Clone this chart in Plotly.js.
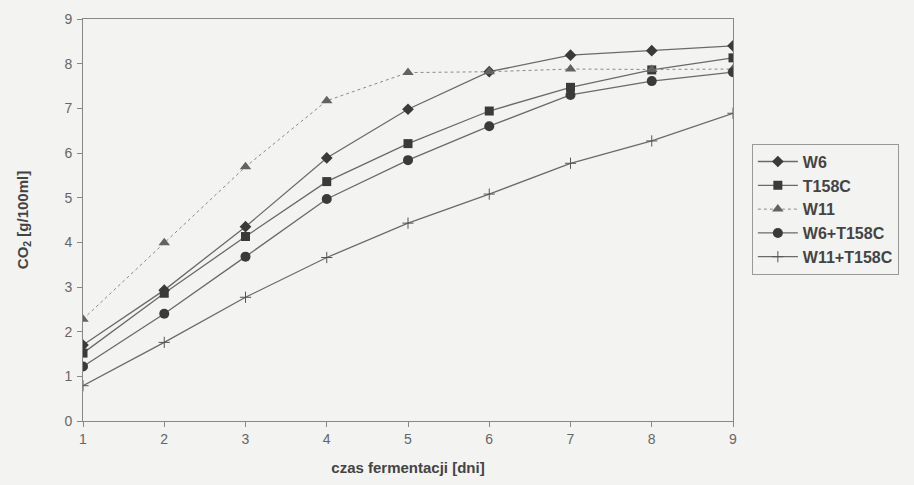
<!DOCTYPE html>
<html><head><meta charset="utf-8">
<script src="https://cdn.plot.ly/plotly-3.0.1.min.js"></script>
<style>html,body{margin:0;padding:0;background:#f3f3f1;}</style>
</head><body>
<div id="chart" style="width:914px;height:485px;"></div>
<script>
var days = [1, 2, 3, 4, 5, 6, 7, 8, 9];
var W6 = [1.70, 2.93, 4.35, 5.89, 6.98, 7.82, 8.19, 8.29, 8.40];
var T158C = [1.52, 2.86, 4.13, 5.36, 6.21, 6.94, 7.47, 7.86, 8.13];
var W11 = [2.28, 3.99, 5.69, 7.17, 7.80, 7.82, 7.88, 7.87, 7.88];
var W6_T158C = [1.22, 2.40, 3.68, 4.97, 5.84, 6.60, 7.30, 7.61, 7.81];
var W11_T158C = [0.79, 1.76, 2.77, 3.66, 4.43, 5.08, 5.77, 6.27, 6.89];
var yTicks = [0, 1, 2, 3, 4, 5, 6, 7, 8, 9];

var dark = '#3a3a3a', lineC = '#6a6a6a';
var traces = [
  {x: days, y: W6, name: 'W6', mode: 'lines+markers', line: {color: lineC, width: 1.3}, marker: {symbol: 'diamond', size: 9, color: dark}},
  {x: days, y: T158C, name: 'T158C', mode: 'lines+markers', line: {color: lineC, width: 1.3}, marker: {symbol: 'square', size: 9, color: dark}},
  {x: days, y: W11, name: 'W11', mode: 'lines+markers', line: {color: '#8a8a8a', width: 1, dash: 'dot'}, marker: {symbol: 'triangle-up', size: 10, color: '#626262'}},
  {x: days, y: W6_T158C, name: 'W6+T158C', mode: 'lines+markers', line: {color: lineC, width: 1.3}, marker: {symbol: 'circle', size: 10, color: dark}},
  {x: days, y: W11_T158C, name: 'W11+T158C', mode: 'lines+markers', line: {color: lineC, width: 1.3}, marker: {symbol: 'cross-thin', size: 8, color: dark, line: {color: '#555', width: 1}}}
];
var layout = {
  width: 914, height: 485,
  paper_bgcolor: '#f3f3f1', plot_bgcolor: '#f3f3f1',
  margin: {l: 83, r: 181, t: 19, b: 64},
  font: {family: 'Arial, Liberation Sans, sans-serif', color: '#555'},
  showlegend: true,
  legend: {x: 1.029, y: 0.69, xanchor: 'left', yanchor: 'top', bordercolor: '#999', borderwidth: 1,
    bgcolor: '#f3f3f1', font: {size: 16, color: '#444', family: 'Arial, Liberation Sans, sans-serif', weight: 'bold'}, tracegroupgap: 1, itemwidth: 40},
  xaxis: {range: [1, 9], tickvals: days, ticks: 'outside', ticklen: 5, tickcolor: '#888',
    showgrid: false, zeroline: false, showline: true, linecolor: '#888', mirror: true,
    tickfont: {size: 14, color: '#666'},
    title: {text: '<b>czas fermentacji [dni]</b>', font: {size: 15, color: '#444'}, standoff: 16}},
  yaxis: {range: [0, 9], tickvals: yTicks, ticks: 'outside', ticklen: 5, tickcolor: '#888',
    showgrid: false, zeroline: false, showline: true, linecolor: '#888', mirror: true,
    tickfont: {size: 14, color: '#666'}, ticklabelstandoff: 2,
    title: {text: '<b>CO<sub>2</sub> [g/100ml]</b>', font: {size: 15, color: '#444'}, standoff: 32}}
};
Plotly.newPlot('chart', traces, layout, {displayModeBar: false, staticPlot: true});
</script>
</body></html>
